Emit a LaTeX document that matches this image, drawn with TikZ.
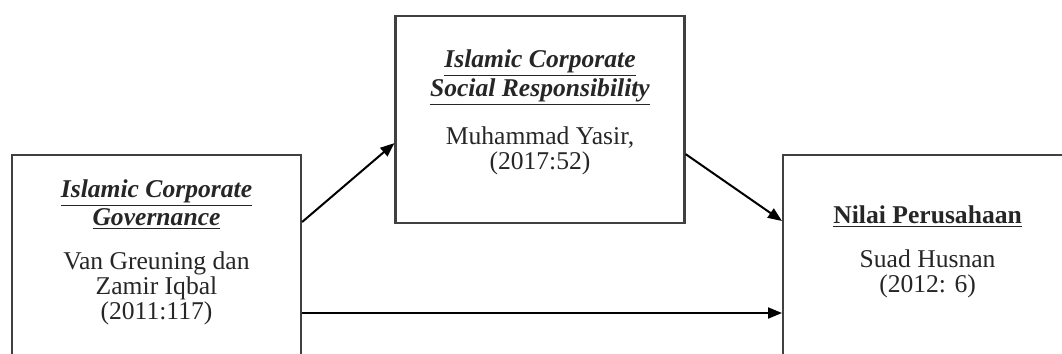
\documentclass[tikz,border=0pt]{standalone}
\usepackage{fontspec}
\setmainfont{Liberation Serif}
\usetikzlibrary{arrows.meta,positioning}

\newcommand{\jdl}[1]{\underline{\textbf{\textit{#1}}}}

\begin{document}
\begin{tikzpicture}[
  x=0.5pt, y=-0.5pt,
  box/.style={rectangle, draw=black!75, line width=1.1pt,
              minimum width=144.5pt, inner sep=0pt},
  txt/.style={align=center, inner sep=0pt, text=black!85,
              font=\fontsize{12.8}{12.5}\selectfont},
  arr/.style={-{Triangle[length=7pt,width=5.5pt]}, line width=1pt}
]
\clip (0,0) rectangle (1062,354);

\node[box, minimum height=150pt, anchor=north]      (gov)   at (156.5,154) {};
\node[box, minimum height=103.5pt, anchor=north]    (csr)   at (540,15)    {};
\node[box, minimum height=150pt, anchor=north west] (nilai) at (782,154)   {};

\node[txt, below=12.5pt of gov.north] (govtxt)
  {\jdl{Islamic Corporate}\\ \jdl{Governance}\\[9.5pt]
   Van Greuning dan\\ Zamir Iqbal\\ (2011:117)};
\node[txt, below=17pt of csr.north] (csrtxt)
  {\jdl{Islamic Corporate}\\ \jdl{Social Responsibility}\\[9.5pt]
   Muhammad Yasir,\\ (2017:52)};
\node[txt, below=25.5pt of nilai.north] (nilaitxt)
  {\underline{\textbf{Nilai Perusahaan}}\\[9.5pt]
   Suad Husnan\\ (2012: 6)};

\draw[arr] ([yshift=-34pt]gov.north east) -- ([yshift=-11.75pt]csr.west);
\draw[arr] ([yshift=-17.25pt]csr.east) -- ([yshift=-33.5pt]nilai.north west);
\draw[arr] ([yshift=-79.5pt]gov.north east) -- ([yshift=-79.5pt]nilai.north west);
\end{tikzpicture}
\end{document}
